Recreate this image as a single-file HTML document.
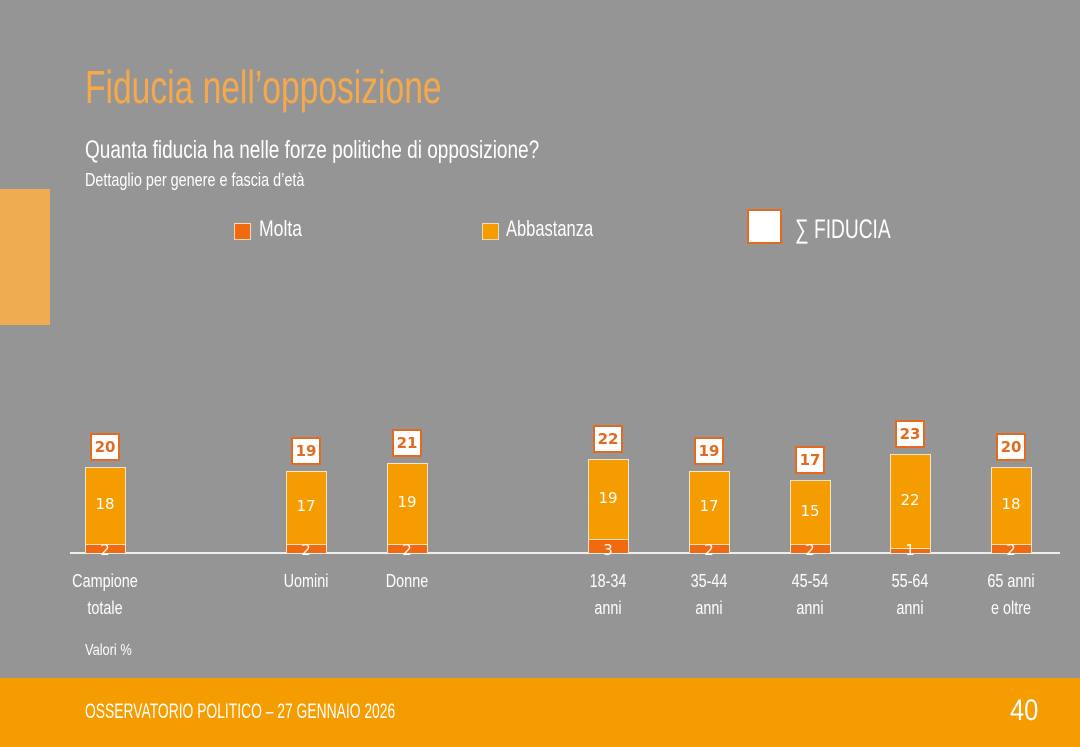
<!DOCTYPE html>
<html><head><meta charset="utf-8"><style>
body{margin:0;width:1080px;height:747px;background:#959595;position:relative;overflow:hidden;font-family:"Liberation Sans Narrow","Liberation Sans",sans-serif;}
.a{position:absolute;}
.t{color:#fff;}
.bar{position:absolute;width:39px;border:1px solid #f3e3c8;border-bottom:none;}
.ab{background:#f59c00;}
.mo{background:#f26a10;}
.lab{position:absolute;width:40px;text-align:center;color:#fff;font-family:"DejaVu Sans",sans-serif;font-size:15px;}
.box{position:absolute;width:26px;height:24px;background:#fff;border:2px solid #e36a1e;color:#e36a1e;font-family:"DejaVu Sans",sans-serif;font-weight:bold;font-size:15px;text-align:center;line-height:24px;}
.xl{position:absolute;width:120px;text-align:center;color:#fff;font-size:18px;line-height:27px;transform:scaleX(0.8);}
</style></head><body>
<div class="a" style="left:0;top:189px;width:50px;height:136px;background:#f0ac50"></div>
<div class="a" style="left:85px;top:60px;font-size:46px;color:#f5a94a;transform:scaleX(0.73);transform-origin:left;white-space:nowrap">Fiducia nell’opposizione</div>
<div class="a t" style="left:85px;top:136px;font-size:25px;transform:scaleX(0.76);transform-origin:left;white-space:nowrap">Quanta fiducia ha nelle forze politiche di opposizione?</div>
<div class="a t" style="left:85px;top:170px;font-size:18px;transform:scaleX(0.8);transform-origin:left;white-space:nowrap">Dettaglio per genere e fascia d’età</div>
<div class="a" style="left:234px;top:223px;width:15px;height:15px;background:#f26a10;border:1px solid #f3d9b8"></div>
<div class="a t" style="left:259px;top:216px;font-size:22px;transform:scaleX(0.8);transform-origin:left">Molta</div>
<div class="a" style="left:482px;top:223px;width:15px;height:15px;background:#f59c00;border:1px solid #f3d9b8"></div>
<div class="a t" style="left:506px;top:216px;font-size:22px;transform:scaleX(0.75);transform-origin:left">Abbastanza</div>
<div class="a" style="left:747px;top:209px;width:31px;height:31px;background:#fff;border:2px solid #e36a1e"></div>
<div class="a t" style="left:795px;top:214px;font-size:27px;transform:scaleX(0.71);transform-origin:left;white-space:nowrap">∑ FIDUCIA</div>
<div class="a" style="left:70px;top:552px;width:990px;height:2px;background:#eee"></div>
<div id="c"></div>
<div class="a t" style="left:85px;top:642px;font-size:16px;transform:scaleX(0.8);transform-origin:left">Valori %</div>
<div class="a" style="left:0;top:678px;width:1080px;height:69px;background:#f59c00"></div>
<div class="a t" style="left:85px;top:700px;font-size:21px;transform:scaleX(0.66);transform-origin:left;white-space:nowrap">OSSERVATORIO POLITICO – 27 GENNAIO 2026</div>
<div class="a t" style="left:1010px;top:694px;font-size:30px;transform:scaleX(0.85);transform-origin:left">40</div>
<script>
var d=[[105,2,18,20,"Campione<br>totale"],[306,2,17,19,"Uomini"],[407,2,19,21,"Donne"],[608,3,19,22,"18-34<br>anni"],[709,2,17,19,"35-44<br>anni"],[810,2,15,17,"45-54<br>anni"],[910,1,22,23,"55-64<br>anni"],[1011,2,18,20,"65 anni<br>e oltre"]];
var s=4.25,b=552,h="";
d.forEach(function(r){var x=r[0]-20,mh=r[1]*s,ah=r[2]*s,top=b-mh-ah;
h+='<div class="bar ab" style="left:'+x+'px;top:'+top+'px;height:'+ah+'px"></div>';
h+='<div class="bar mo" style="left:'+x+'px;top:'+(b-mh)+'px;height:'+mh+'px"></div>';
h+='<div class="lab" style="left:'+x+'px;top:'+(top+ah/2-10)+'px">'+r[2]+'</div>';
h+='<div class="lab" style="left:'+x+'px;top:'+(b-11)+'px">'+r[1]+'</div>';
h+='<div class="box" style="left:'+(r[0]-15)+'px;top:'+(top-34)+'px">'+r[3]+'</div>';
h+='<div class="xl" style="left:'+(r[0]-60)+'px;top:568px">'+r[4]+'</div>';});
document.getElementById("c").innerHTML=h;
</script>
</body></html>
